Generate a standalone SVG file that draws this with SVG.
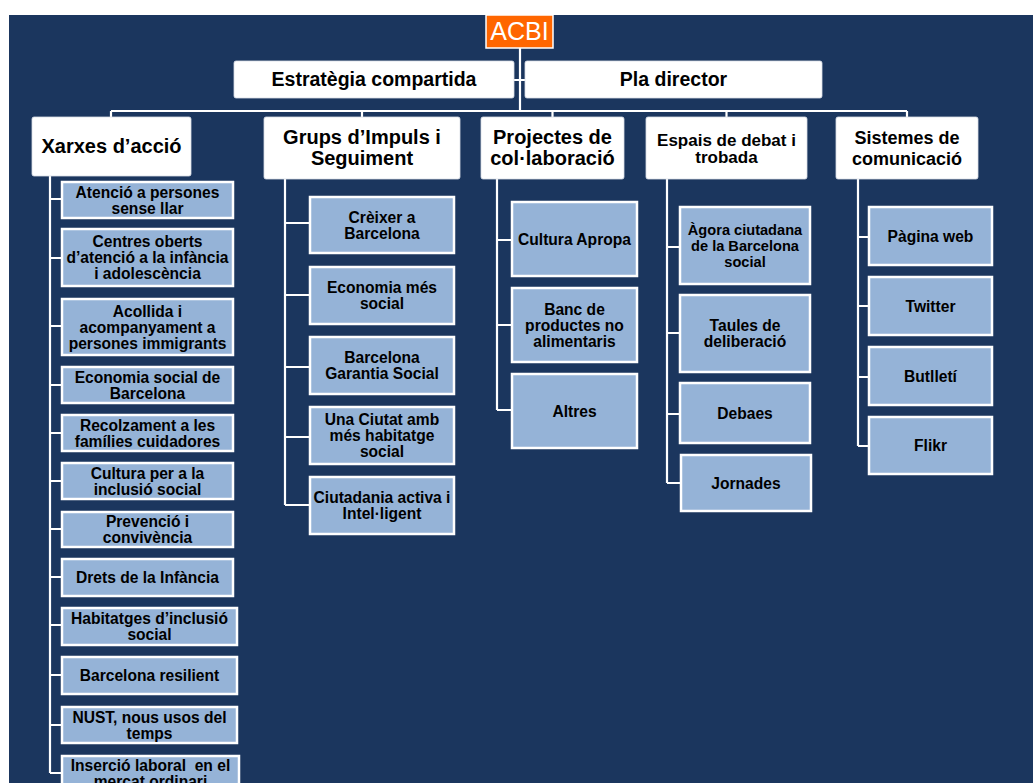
<svg xmlns="http://www.w3.org/2000/svg" width="1033" height="783" viewBox="0 0 1033 783">
<style>
.bg{fill:#1b365e}
.top{fill:#ffffff;stroke:#d8dde6;stroke-width:0.8}
.leaf{fill:#95b3d7;stroke:#ffffff;stroke-width:2.5}
.root{fill:#ff6600;stroke:#ffffff;stroke-width:1.5}
.conn{fill:none;stroke:#ffffff;stroke-width:2.2}
text{font-family:"Liberation Sans",Arial,sans-serif;font-weight:bold;fill:#000000;text-anchor:middle}
.t1{font-size:19.5px}
.t2{font-size:20px}
.t3{font-size:15.6px}
.rt{font-size:25px;font-weight:normal;fill:#ffffff}
</style>
<rect x="0" y="0" width="1033" height="783" fill="#ffffff"/>
<rect class="bg" x="9" y="15" width="1024" height="768"/>
<g id="connectors">
<path class="conn" d="M520,48V111M514,80H525M111,111H907M111,111V117M362,111V117M552.5,111V117M726.5,111V117M907,111V117"/>
<path class="conn" d="M50,176V773M50,199H62M50,258H62M50,326H62M50,385H62M50,433H62M50,481H62M50,529H62M50,577H62M50,625H62M50,675H62M50,725H62M50,773H62"/>
<path class="conn" d="M285,179V505M285,223H310M285,295H310M285,367H310M285,437H310M285,505H310"/>
<path class="conn" d="M497,179V410M497,240H512M497,325H512M497,410H512"/>
<path class="conn" d="M667,179V483M667,247H680M667,333H680M667,414H680M667,483H680"/>
<path class="conn" d="M858,179V446M858,237H869M858,306H869M858,377H869M858,446H869"/>
</g>
<g id="acbi"><rect class="root" x="486" y="15" width="67" height="33"/><text class="rt" x="519.5" y="40">ACBI</text></g>
<g id="estrategia"><rect class="top" x="234" y="61" width="280" height="37" rx="2"/><text class="t1" x="374" y="86">Estratègia compartida</text></g>
<g id="pla"><rect class="top" x="525" y="61" width="297" height="37" rx="2"/><text class="t1" x="673.5" y="86">Pla director</text></g>
<g id="xarxes"><rect class="top" x="32" y="117" width="159" height="59" rx="2"/><text class="t2" x="111.5" y="153">Xarxes d’acció</text></g>
<g id="grups"><rect class="top" x="264" y="117" width="196" height="62" rx="2"/><text class="t2" x="362" y="144">Grups d’Impuls i</text><text class="t2" x="362" y="165">Seguiment</text></g>
<g id="projectes"><rect class="top" x="481" y="117" width="143" height="62" rx="2"/><text class="t2" x="552.5" y="144">Projectes de</text><text class="t2" x="552.5" y="165">col·laboració</text></g>
<g id="espais"><rect class="top" x="646" y="117" width="161" height="62" rx="2"/><text x="726.5" y="146" style="font-size:17px">Espais de debat i</text><text x="726.5" y="163" style="font-size:17px">trobada</text></g>
<g id="sistemes"><rect class="top" x="836" y="117" width="142" height="62" rx="2"/><text x="907" y="144" style="font-size:18px">Sistemes de</text><text x="907" y="165" style="font-size:18px">comunicació</text></g>

<g id="x1"><rect class="leaf" x="62" y="182" width="171" height="36"/><text class="t3" x="147.5" y="197.6">Atenció a persones</text><text class="t3" x="147.5" y="213.6">sense llar</text></g>
<g id="x2"><rect class="leaf" x="62" y="229" width="171" height="57"/><text class="t3" x="147.5" y="247">Centres oberts</text><text class="t3" x="147.5" y="263">d’atenció a la infància</text><text class="t3" x="147.5" y="279">i adolescència</text></g>
<g id="x3"><rect class="leaf" x="62" y="299" width="171" height="56"/><text class="t3" x="147.5" y="316.6">Acollida i</text><text class="t3" x="147.5" y="332.6">acompanyament a</text><text class="t3" x="147.5" y="348.6">persones immigrants</text></g>
<g id="x4"><rect class="leaf" x="62" y="367" width="171" height="36"/><text class="t3" x="147.5" y="382.6">Economia social de</text><text class="t3" x="147.5" y="398.6">Barcelona</text></g>
<g id="x5"><rect class="leaf" x="62" y="415" width="171" height="36"/><text class="t3" x="147.5" y="430.6">Recolzament a les</text><text class="t3" x="147.5" y="446.6">famílies cuidadores</text></g>
<g id="x6"><rect class="leaf" x="62" y="463" width="171" height="36"/><text class="t3" x="147.5" y="478.6">Cultura per a la</text><text class="t3" x="147.5" y="494.6">inclusió social</text></g>
<g id="x7"><rect class="leaf" x="62" y="512" width="171" height="35"/><text class="t3" x="147.5" y="527">Prevenció i</text><text class="t3" x="147.5" y="543">convivència</text></g>
<g id="x8"><rect class="leaf" x="62" y="559" width="171" height="37"/><text class="t3" x="147.5" y="583">Drets de la Infància</text></g>
<g id="x9"><rect class="leaf" x="62" y="608" width="175" height="37"/><text class="t3" x="149.5" y="624">Habitatges d’inclusió</text><text class="t3" x="149.5" y="640">social</text></g>
<g id="x10"><rect class="leaf" x="62" y="657" width="175" height="37"/><text class="t3" x="149.5" y="681">Barcelona resilient</text></g>
<g id="x11"><rect class="leaf" x="62" y="707" width="175" height="36"/><text class="t3" x="149.5" y="722.6">NUST, nous usos del</text><text class="t3" x="149.5" y="738.6">temps</text></g>
<g id="x12"><rect class="leaf" x="62" y="756" width="177" height="40"/><text class="t3" x="150.5" y="771" xml:space="preserve">Inserció laboral  en el</text><text class="t3" x="150.5" y="787">mercat ordinari</text></g>

<g id="g1"><rect class="leaf" x="310" y="197" width="144" height="56"/><text class="t3" x="382" y="222.6">Crèixer a</text><text class="t3" x="382" y="238.6">Barcelona</text></g>
<g id="g2"><rect class="leaf" x="310" y="267" width="144" height="57"/><text class="t3" x="382" y="293">Economia més</text><text class="t3" x="382" y="309">social</text></g>
<g id="g3"><rect class="leaf" x="310" y="337" width="144" height="57"/><text class="t3" x="382" y="363">Barcelona</text><text class="t3" x="382" y="379">Garantia Social</text></g>
<g id="g4"><rect class="leaf" x="310" y="407" width="144" height="57"/><text class="t3" x="382" y="425">Una Ciutat amb</text><text class="t3" x="382" y="441">més habitatge</text><text class="t3" x="382" y="457">social</text></g>
<g id="g5"><rect class="leaf" x="310" y="477" width="144" height="57"/><text class="t3" x="382" y="503">Ciutadania activa i</text><text class="t3" x="382" y="519">Intel·ligent</text></g>

<g id="p1"><rect class="leaf" x="512" y="202" width="125" height="74"/><text class="t3" x="574.5" y="244.6">Cultura Apropa</text></g>
<g id="p2"><rect class="leaf" x="512" y="288" width="125" height="74"/><text class="t3" x="574.5" y="314.6">Banc de</text><text class="t3" x="574.5" y="330.6">productes no</text><text class="t3" x="574.5" y="346.6">alimentaris</text></g>
<g id="p3"><rect class="leaf" x="512" y="374" width="125" height="74"/><text class="t3" x="574.5" y="416.6">Altres</text></g>

<g id="e1"><rect class="leaf" x="680" y="207" width="130" height="77"/><text x="745" y="234.5" style="font-size:14.6px">Àgora ciutadana</text><text x="745" y="250.5" style="font-size:14.6px">de la Barcelona</text><text x="745" y="266.5" style="font-size:14.6px">social</text></g>
<g id="e2"><rect class="leaf" x="680" y="295" width="130" height="77"/><text class="t3" x="745" y="331">Taules de</text><text class="t3" x="745" y="347">deliberació</text></g>
<g id="e3"><rect class="leaf" x="680" y="383" width="130" height="60"/><text class="t3" x="745" y="418.6">Debaes</text></g>
<g id="e4"><rect class="leaf" x="681" y="455" width="130" height="56"/><text class="t3" x="746" y="488.6">Jornades</text></g>

<g id="s1"><rect class="leaf" x="869" y="207" width="123" height="58"/><text class="t3" x="930.5" y="241.6">Pàgina web</text></g>
<g id="s2"><rect class="leaf" x="869" y="277" width="123" height="58"/><text class="t3" x="930.5" y="311.6">Twitter</text></g>
<g id="s3"><rect class="leaf" x="869" y="347" width="123" height="58"/><text class="t3" x="930.5" y="381.6">Butlletí</text></g>
<g id="s4"><rect class="leaf" x="869" y="417" width="123" height="57"/><text class="t3" x="930.5" y="451">Flikr</text></g>
</svg>
